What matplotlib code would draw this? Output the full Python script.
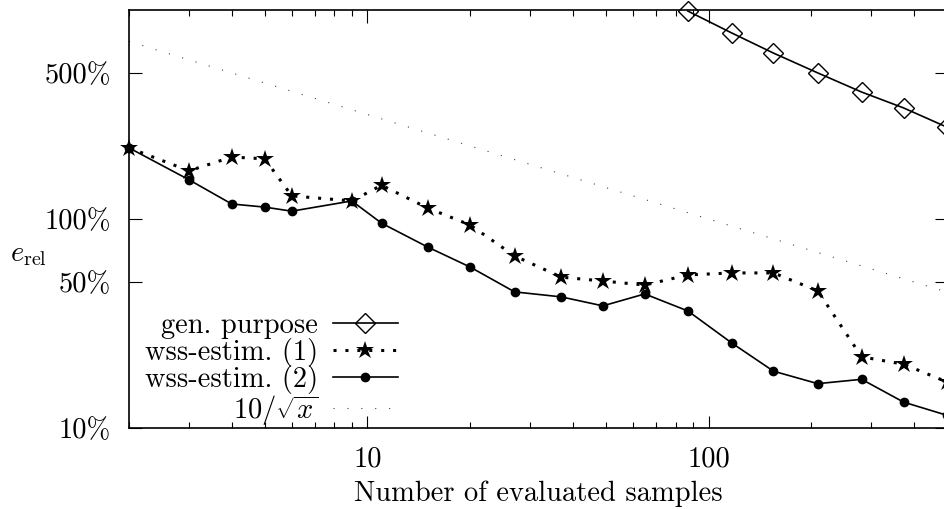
import matplotlib
matplotlib.use("Agg")
import matplotlib.pyplot as plt
from matplotlib.ticker import NullLocator, NullFormatter

plt.rcParams['font.family'] = 'cmr10'
plt.rcParams['mathtext.fontset'] = 'cm'
plt.rcParams['axes.unicode_minus'] = False
plt.rcParams['font.size'] = 20.5

# sample counts (x)
samples = [2, 3, 4, 5, 6, 9, 11, 15, 20, 27, 37, 49, 65, 87, 117, 155, 209, 281, 373, 500]
# relative error in percent
wss1 = [219, 170, 198, 194, 129, 122, 145, 113, 93.6, 66.6, 52.7, 50.5, 48.3, 54, 55.2, 55.2, 45.3, 21.9, 20.2, 16.6]
wss2 = [219, 154, 118, 114, 109, 122, 95.5, 73.5, 58.9, 44.8, 42.4, 38.4, 43.8, 36.3, 25.5, 18.7, 16.3, 17.1, 13.3, 11.5]

gen_x = [87, 117, 155, 209, 281, 373, 500]
gen_y = [988, 776, 622, 500, 405, 340, 275]

# reference curve 10/sqrt(x), end points
ref_x = [2, 500]
ref_y = [707.1, 44.7]

ytick_vals = [10, 50, 100, 500]
ytick_labels = ['10%', '50%', '100%', '500%']
xtick_vals = [10, 100]
xtick_labels = ['10', '100']
xminor = [2, 3, 4, 5, 6, 7, 8, 9, 20, 30, 40, 50, 60, 70, 80, 90, 200, 300, 400]

fig = plt.figure(figsize=(9.44, 5.09), dpi=100)
ax = fig.add_axes([129/944, 81/509, 818/944, 418/509])

ax.plot(gen_x, gen_y, color='k', lw=1.2, marker='D', ms=10.5, mfc='none', mew=1.0,
        label='gen. purpose', clip_on=False)
ax.plot(samples, wss1, color='k', lw=2.2, linestyle=(0, (1, 2.9)), marker='*', ms=13.5,
        mew=0, label='wss-estim. (1)', clip_on=False)
ax.plot(samples, wss2, color='k', lw=1.2, marker='o', ms=6,
        label='wss-estim. (2)', clip_on=False)
ax.plot(ref_x, ref_y, color='#444444', lw=0.8, linestyle=(0, (1, 11.5)),
        label=r'$10/\sqrt{x}$')

ax.set_xscale('log')
ax.set_yscale('log')
ax.set_xlim(2, 500)
ax.set_ylim(10, 1000)

ax.set_xticks(xtick_vals, xtick_labels)
ax.set_xticks(xminor, minor=True)
ax.xaxis.set_minor_formatter(NullFormatter())
ax.set_yticks(ytick_vals, ytick_labels)
ax.yaxis.set_minor_locator(NullLocator())

ax.tick_params(which='both', direction='in', top=True, right=True, width=0.8)
ax.tick_params(which='major', length=9)
ax.tick_params(which='minor', length=4.5)
ax.tick_params(axis='x', which='both', pad=13)
ax.tick_params(axis='y', which='both', pad=13)
for s in ax.spines.values():
    s.set_linewidth(1.2)

ax.set_xlabel('Number of evaluated samples', labelpad=6)
ax.set_ylabel(r'$e_{\rm rel}$', rotation=0, ha='center', va='center')
ax.yaxis.set_label_coords(-0.123, 0.414)

leg = ax.legend(loc='center right', bbox_to_anchor=((398-129)/818, (428-370)/418),
                frameon=False, markerfirst=False, alignment='right', borderpad=0,
                handlelength=2.3, handletextpad=0.5, labelspacing=-0.05,
                borderaxespad=0, numpoints=1)

fig.savefig('out.png', dpi=100)
